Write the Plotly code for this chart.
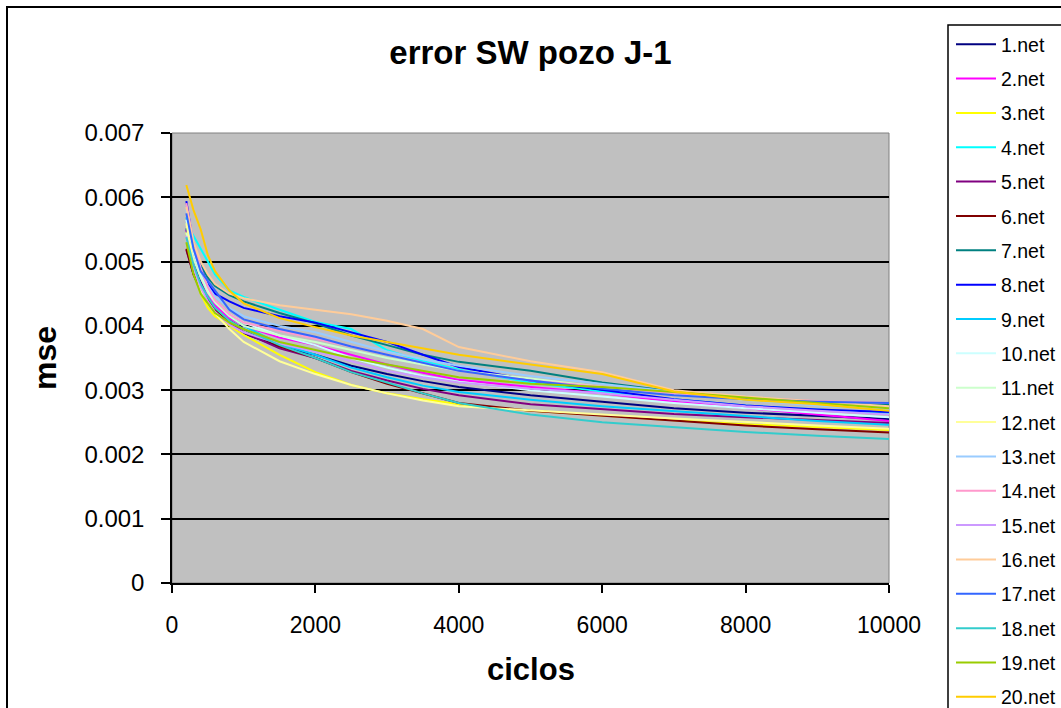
import plotly.graph_objects as go

# ---- data (mse, in units of 1e-3) ----
ciclos = [200, 300, 400, 500, 600, 800, 1000, 1500, 2000, 2500, 3000, 3500, 4000,
          5000, 6000, 7000, 8000, 9000, 10000]

names = ["1.net", "2.net", "3.net", "4.net", "5.net", "6.net", "7.net", "8.net", "9.net", "10.net",
         "11.net", "12.net", "13.net", "14.net", "15.net", "16.net", "17.net", "18.net", "19.net", "20.net"]

colors = ["#000080", "#FF00FF", "#FFFF00", "#00FFFF", "#800080", "#800000", "#008080", "#0000FF",
          "#00CCFF", "#CCFFFF", "#CCFFCC", "#FFFF99", "#99CCFF", "#FF99CC", "#CC99FF", "#FFCC99",
          "#3366FF", "#33CCCC", "#99CC00", "#FFCC00"]

net1 = [5.50, 5.00, 4.70, 4.45, 4.25, 4.02, 3.88, 3.68, 3.55, 3.38, 3.25, 3.14, 3.05, 2.92, 2.82, 2.72, 2.65, 2.60, 2.55]
net2 = [5.50, 5.05, 4.75, 4.50, 4.32, 4.12, 4.00, 3.82, 3.70, 3.55, 3.40, 3.27, 3.16, 3.05, 2.95, 2.82, 2.72, 2.62, 2.52]
net3 = [5.45, 4.90, 4.50, 4.28, 4.15, 4.00, 3.86, 3.55, 3.28, 3.08, 2.95, 2.86, 2.78, 2.68, 2.60, 2.53, 2.47, 2.42, 2.38]
net4 = [5.60, 5.40, 5.18, 5.00, 4.80, 4.55, 4.45, 4.25, 4.06, 3.95, 3.62, 3.45, 3.32, 3.12, 2.98, 2.86, 2.76, 2.70, 2.64]
net5 = [5.18, 4.80, 4.55, 4.40, 4.25, 4.05, 3.90, 3.65, 3.50, 3.30, 3.15, 3.02, 2.92, 2.78, 2.70, 2.63, 2.58, 2.53, 2.49]
net6 = [5.20, 4.80, 4.55, 4.38, 4.25, 4.08, 3.95, 3.68, 3.50, 3.28, 3.10, 2.95, 2.80, 2.68, 2.60, 2.52, 2.45, 2.39, 2.34]
net7 = [5.52, 5.20, 4.95, 4.75, 4.62, 4.48, 4.38, 4.20, 4.04, 3.85, 3.70, 3.55, 3.44, 3.30, 3.12, 2.98, 2.88, 2.82, 2.77]
net8 = [5.94, 5.25, 4.90, 4.65, 4.50, 4.38, 4.28, 4.15, 4.05, 3.90, 3.75, 3.55, 3.36, 3.15, 3.00, 2.86, 2.76, 2.70, 2.66]
net9 = [5.69, 5.25, 4.90, 4.60, 4.38, 4.15, 4.00, 3.72, 3.55, 3.35, 3.20, 3.07, 2.97, 2.85, 2.75, 2.67, 2.60, 2.52, 2.46]
net10 = [5.65, 5.15, 4.80, 4.55, 4.38, 4.18, 4.05, 3.85, 3.70, 3.50, 3.35, 3.22, 3.13, 3.00, 2.90, 2.80, 2.72, 2.65, 2.58]
net11 = [5.45, 5.05, 4.75, 4.52, 4.36, 4.15, 4.00, 3.85, 3.75, 3.62, 3.50, 3.40, 3.30, 3.18, 3.05, 2.95, 2.85, 2.78, 2.72]
net12 = [5.60, 4.95, 4.55, 4.35, 4.20, 3.95, 3.75, 3.45, 3.25, 3.08, 2.95, 2.84, 2.75, 2.68, 2.62, 2.56, 2.50, 2.45, 2.40]
net13 = [5.80, 5.20, 4.85, 4.62, 4.45, 4.28, 4.15, 4.00, 3.90, 3.75, 3.60, 3.48, 3.38, 3.22, 3.10, 2.97, 2.85, 2.76, 2.70]
net14 = [5.91, 5.30, 4.90, 4.60, 4.40, 4.18, 4.05, 3.92, 3.80, 3.68, 3.55, 3.42, 3.30, 3.15, 3.05, 2.95, 2.88, 2.83, 2.80]
net15 = [5.40, 4.90, 4.60, 4.38, 4.22, 4.02, 3.90, 3.72, 3.60, 3.45, 3.30, 3.20, 3.12, 3.02, 2.95, 2.85, 2.75, 2.68, 2.62]
net16 = [5.85, 5.30, 5.00, 4.80, 4.65, 4.50, 4.43, 4.32, 4.25, 4.18, 4.08, 3.95, 3.67, 3.45, 3.28, 3.00, 2.90, 2.82, 2.75]
net17 = [5.75, 5.20, 4.85, 4.70, 4.55, 4.25, 4.10, 3.95, 3.83, 3.68, 3.55, 3.42, 3.30, 3.15, 3.02, 2.92, 2.86, 2.82, 2.80]
net18 = [5.38, 4.95, 4.65, 4.45, 4.28, 4.08, 3.95, 3.70, 3.50, 3.28, 3.12, 2.95, 2.80, 2.62, 2.50, 2.42, 2.35, 2.29, 2.24]
net19 = [5.30, 4.80, 4.50, 4.35, 4.20, 4.05, 3.95, 3.75, 3.62, 3.50, 3.40, 3.30, 3.20, 3.10, 3.05, 2.97, 2.88, 2.80, 2.72]
net20 = [6.19, 5.80, 5.50, 5.10, 4.85, 4.55, 4.35, 4.12, 3.98, 3.85, 3.75, 3.65, 3.55, 3.40, 3.25, 2.98, 2.85, 2.78, 2.68]

series = [net1, net2, net3, net4, net5, net6, net7, net8, net9, net10,
          net11, net12, net13, net14, net15, net16, net17, net18, net19, net20]
UNIT = 1e-3

# ---- layout geometry (pixels) ----
W, H = 1061, 708
L, R, T, B = 172, 889, 133, 583
PW, PH = R - L, B - T


def px(xp):
    return (xp - L) / PW


def py(yp):
    return (B - yp) / PH


FONT = "Liberation Sans, Arial, sans-serif"

fig = go.Figure()
for i, (nm, col, vals) in enumerate(zip(names, colors, series)):
    fig.add_trace(go.Scatter(
        x=ciclos, y=[v * UNIT for v in vals], mode="lines", name=nm,
        legendgroup=f"g{i:02d}",
        line=dict(color=col, width=2),
    ))

shapes = [
    # plot area border (gray)
    dict(type="rect", xref="paper", yref="paper", x0=0, x1=1, y0=0, y1=1,
         line=dict(color="#808080", width=1), layer="below"),
    # outer chart border
    dict(type="rect", xref="paper", yref="paper", x0=px(7), x1=px(1080), y0=py(7), y1=py(730),
         line=dict(color="black", width=2)),
    # legend border
    dict(type="rect", xref="paper", yref="paper", x0=px(948), x1=px(1080), y0=py(25), y1=py(730),
         line=dict(color="black", width=1.5)),
]

fig.update_layout(
    width=W, height=H,
    margin=dict(l=L, r=W - R, t=T, b=H - B, autoexpand=False),
    paper_bgcolor="white",
    plot_bgcolor="#C0C0C0",
    font=dict(family=FONT, color="black"),
    title=dict(text="<b>error SW pozo J-1</b>", x=0.5, xref="paper", xanchor="center",
               y=1 - 52 / H, yref="container", yanchor="middle",
               font=dict(size=33, family=FONT, color="black")),
    xaxis=dict(range=[0, 10000], dtick=2000, tick0=0, tickformat="d",
               showgrid=False, zeroline=False,
               showline=True, linecolor="black", linewidth=1.5,
               ticks="outside", ticklen=8, tickcolor="black", tickwidth=1.5,
               ticklabelstandoff=13,
               tickfont=dict(size=23, family=FONT, color="black")),
    yaxis=dict(range=[0, 0.007], dtick=0.001, tick0=0,
               showgrid=True, gridcolor="black", gridwidth=1.5, zeroline=False,
               showline=True, linecolor="black", linewidth=1.5,
               ticks="outside", ticklen=9, tickcolor="black", tickwidth=1.5,
               ticklabelstandoff=12,
               tickfont=dict(size=24, family=FONT, color="black")),
    legend=dict(x=px(951), xanchor="left", y=py(25), yanchor="top",
                bgcolor="rgba(0,0,0,0)", borderwidth=0,
                font=dict(size=19.5, family=FONT, color="black"),
                tracegroupgap=6.0, itemwidth=40,
                traceorder="grouped", maxheight=720),
    shapes=shapes,
    annotations=[
        dict(text="<b>ciclos</b>", xref="paper", yref="paper", x=0.5, y=py(669),
             xanchor="center", yanchor="middle", showarrow=False,
             font=dict(size=31, family=FONT, color="black")),
        dict(text="<b>mse</b>", xref="paper", yref="paper", x=px(45), y=py(358),
             xanchor="center", yanchor="middle", showarrow=False, textangle=-90,
             font=dict(size=32, family=FONT, color="black")),
    ],
    showlegend=True,
)

fig.write_html("out.html")
